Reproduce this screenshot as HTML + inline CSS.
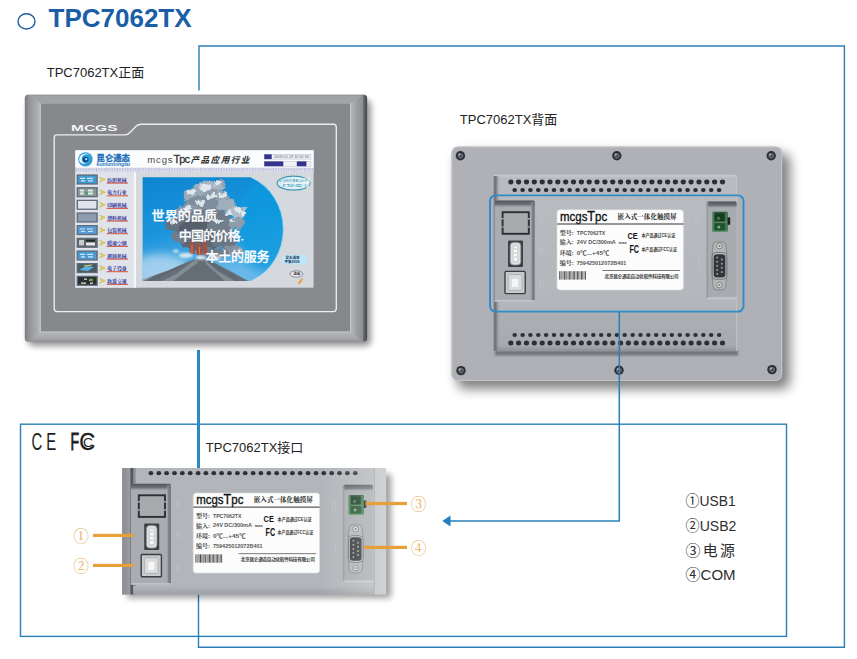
<!DOCTYPE html>
<html lang="zh-CN">
<head>
<meta charset="utf-8">
<title>TPC7062TX</title>
<style>
html,body{margin:0;padding:0;background:#fff;}
body{width:857px;height:659px;overflow:hidden;font-family:"Liberation Sans", "Noto Sans CJK SC", sans-serif;}
svg{display:block;}
text{font-family:"Liberation Sans", "Noto Sans CJK SC", sans-serif;}
.serif{font-family:"Liberation Serif", "Noto Serif CJK SC", serif;}
</style>
</head>
<body>
<svg width="857" height="659" viewBox="0 0 857 659">
<defs>
<filter id="blur2" x="-20%" y="-20%" width="140%" height="140%"><feGaussianBlur stdDeviation="2"/></filter>
<filter id="blur4" x="-20%" y="-20%" width="140%" height="140%"><feGaussianBlur stdDeviation="4"/></filter>
<filter id="blur3" x="-20%" y="-20%" width="140%" height="140%"><feGaussianBlur stdDeviation="3"/></filter>
<filter id="cloud" x="-10%" y="-10%" width="120%" height="120%"><feTurbulence type="fractalNoise" baseFrequency="0.16" numOctaves="3" seed="7" result="n"/><feDisplacementMap in="SourceGraphic" in2="n" scale="7" xChannelSelector="R" yChannelSelector="G"/><feGaussianBlur stdDeviation="0.7"/></filter>
<filter id="blur6" x="-20%" y="-20%" width="140%" height="140%"><feGaussianBlur stdDeviation="6"/></filter>
<filter id="blur1" x="-20%" y="-20%" width="140%" height="140%"><feGaussianBlur stdDeviation="1"/></filter>
<filter id="blur05" x="-20%" y="-20%" width="140%" height="140%"><feGaussianBlur stdDeviation="0.5"/></filter>
<linearGradient id="bezL" x1="0" y1="0" x2="1" y2="0"><stop offset="0" stop-color="#797b7f"/><stop offset="0.25" stop-color="#929498"/><stop offset="0.6" stop-color="#a2a4a7"/><stop offset="0.88" stop-color="#b0b2b5"/><stop offset="0.95" stop-color="#c8cacc"/><stop offset="1" stop-color="#b0b2b5"/></linearGradient>
<linearGradient id="bezR" x1="0" y1="0" x2="1" y2="0"><stop offset="0" stop-color="#d0d2d4"/><stop offset="0.08" stop-color="#b2b4b7"/><stop offset="0.4" stop-color="#9c9ea1"/><stop offset="0.74" stop-color="#8c8e91"/><stop offset="0.8" stop-color="#66686c"/><stop offset="1" stop-color="#434549"/></linearGradient>
<linearGradient id="bezT" x1="0" y1="0" x2="0" y2="1"><stop offset="0" stop-color="#8f9194"/><stop offset="0.2" stop-color="#a0a2a5"/><stop offset="1" stop-color="#a3a5a8"/></linearGradient>
<linearGradient id="bezB" x1="0" y1="0" x2="0" y2="1"><stop offset="0" stop-color="#c6c8ca"/><stop offset="0.12" stop-color="#b2b4b7"/><stop offset="0.6" stop-color="#a8aaad"/><stop offset="0.85" stop-color="#9c9ea1"/><stop offset="1" stop-color="#828488"/></linearGradient>
<linearGradient id="sky" x1="0" y1="0" x2="0.3" y2="1">
 <stop offset="0" stop-color="#0c84d0"/><stop offset="0.55" stop-color="#1c95dc"/><stop offset="1" stop-color="#6ab8ea"/>
</linearGradient>
<linearGradient id="backBody" x1="0" y1="0" x2="0" y2="1">
 <stop offset="0" stop-color="#afb1b7"/><stop offset="1" stop-color="#aeb0b6"/>
</linearGradient>
<clipPath id="picClip"><path d="M142.6,177.3 H251 A52,56 0 0 1 251,281 H142.6 Z"/></clipPath>
<clipPath id="ifaceClip"><rect x="122.2" y="468" width="264" height="126.6"/></clipPath>
<linearGradient id="ifL" x1="0" y1="0" x2="1" y2="0"><stop offset="0" stop-color="#85888c"/><stop offset="1" stop-color="#9c9fa3"/></linearGradient>
<linearGradient id="ifLight" x1="0" y1="0" x2="1" y2="0"><stop offset="0" stop-color="#fff" stop-opacity="0"/><stop offset="0.5" stop-color="#fff" stop-opacity="0.16"/><stop offset="1" stop-color="#fff" stop-opacity="0.3"/></linearGradient>
<linearGradient id="ifB" x1="0" y1="0" x2="0" y2="1"><stop offset="0" stop-color="#b2b5b9"/><stop offset="1" stop-color="#9b9ea2"/></linearGradient>
</defs>
<g fill="none" stroke="#2a7fb6" stroke-width="1.4">
<path d="M199,90.5 V46 H844.4 V647.2 H198.5 V594"/>
<rect x="20.5" y="424.2" width="766" height="212.2"/>
</g>
<rect x="197" y="350" width="3" height="118.5" fill="#2b8abf"/>
<g id="front">
<rect x="28" y="100" width="343" height="246" rx="5" fill="#000" opacity="0.42" filter="url(#blur3)"/>
<rect x="24.9" y="94.8" width="342.2" height="246.8" rx="3.6" fill="#a1a3a6"/>
<rect x="24.9" y="94.8" width="342.2" height="9" rx="3.6" fill="url(#bezT)"/>
<rect x="24.9" y="331.6" width="342.2" height="10" rx="3" fill="url(#bezB)"/>
<path d="M24.9,98.4 Q24.9,94.8 28.5,94.8 L41,103.8 V331.6 L28.5,341.6 Q24.9,341.6 24.9,338 Z" fill="url(#bezL)"/>
<path d="M367.1,98.4 Q367.1,94.8 363.5,94.8 L350,103.8 V331.6 L363.5,341.6 Q367.1,341.6 367.1,338 Z" fill="url(#bezR)"/>
<rect x="41" y="103.8" width="309" height="227.8" fill="#86888c"/>
<rect x="41" y="331.4" width="309" height="1" fill="#c4c6c8" opacity="0.8"/>
<path d="M57,134.8 H125 Q128,134.8 130,132.5 L136,126.2 Q138,124.2 141,124.2 H333.3 Q336.3,124.2 336.3,127.2 V308.6 Q336.3,311.6 333.3,311.6 H57.2 Q54.2,311.6 54.2,308.6 V137.8 Q54.2,134.8 57.2,134.8 Z" fill="#888a8e" stroke="#ecedee" stroke-width="1.35"/>
<text x="71" y="131" font-size="8.6" font-weight="bold" fill="#f4f4f4" textLength="46.5" lengthAdjust="spacingAndGlyphs">MCGS</text>
<g id="screen">
<rect x="75.3" y="150.3" width="238.3" height="137.4" fill="#d5d8dc"/>
<rect x="75.3" y="150.3" width="238.3" height="17.5" fill="#fbfcfd"/>
<rect x="75.3" y="167.8" width="238.3" height="4.4" fill="#dadcea"/>
<path d="M75.8,167.8 V171.8 M78.4,168.2 V170.6 M81.0,168.2 V170.6 M83.6,168.2 V170.6 M86.2,167.8 V171.8 M88.8,168.2 V170.6 M91.4,168.2 V170.6 M94.0,168.2 V170.6 M96.6,167.8 V171.8 M99.2,168.2 V170.6 M101.8,168.2 V170.6 M104.4,168.2 V170.6 M107.0,167.8 V171.8 M109.6,168.2 V170.6 M112.2,168.2 V170.6 M114.8,168.2 V170.6 M117.4,167.8 V171.8 M120.0,168.2 V170.6 M122.6,168.2 V170.6 M125.2,168.2 V170.6 M127.8,167.8 V171.8 M130.4,168.2 V170.6 M133.0,168.2 V170.6 M135.6,168.2 V170.6 M138.2,167.8 V171.8 M140.8,168.2 V170.6 M143.4,168.2 V170.6 M146.0,168.2 V170.6 M148.6,167.8 V171.8 M151.2,168.2 V170.6 M153.8,168.2 V170.6 M156.4,168.2 V170.6 M159.0,167.8 V171.8 M161.6,168.2 V170.6 M164.2,168.2 V170.6 M166.8,168.2 V170.6 M169.4,167.8 V171.8 M172.0,168.2 V170.6 M174.6,168.2 V170.6 M177.2,168.2 V170.6 M179.8,167.8 V171.8 M182.4,168.2 V170.6 M185.0,168.2 V170.6 M187.6,168.2 V170.6 M190.2,167.8 V171.8 M192.8,168.2 V170.6 M195.4,168.2 V170.6 M198.0,168.2 V170.6 M200.6,167.8 V171.8 M203.2,168.2 V170.6 M205.8,168.2 V170.6 M208.4,168.2 V170.6 M211.0,167.8 V171.8 M213.6,168.2 V170.6 M216.2,168.2 V170.6 M218.8,168.2 V170.6 M221.4,167.8 V171.8 M224.0,168.2 V170.6 M226.6,168.2 V170.6 M229.2,168.2 V170.6 M231.8,167.8 V171.8 M234.4,168.2 V170.6 M237.0,168.2 V170.6 M239.6,168.2 V170.6 M242.2,167.8 V171.8 M244.8,168.2 V170.6 M247.4,168.2 V170.6 M250.0,168.2 V170.6 M252.6,167.8 V171.8 M255.2,168.2 V170.6 M257.8,168.2 V170.6 M260.4,168.2 V170.6 M263.0,167.8 V171.8 M265.6,168.2 V170.6 M268.2,168.2 V170.6 M270.8,168.2 V170.6 M273.4,167.8 V171.8 M276.0,168.2 V170.6 M278.6,168.2 V170.6 M281.2,168.2 V170.6 M283.8,167.8 V171.8 M286.4,168.2 V170.6 M289.0,168.2 V170.6 M291.6,168.2 V170.6 M294.2,167.8 V171.8 M296.8,168.2 V170.6 M299.4,168.2 V170.6 M302.0,168.2 V170.6 M304.6,167.8 V171.8 M307.2,168.2 V170.6 M309.8,168.2 V170.6 M312.4,168.2 V170.6 " stroke="#9aa0c8" stroke-width="0.6" opacity="0.8"/>
<rect x="75.3" y="172.2" width="58.5" height="115.5" fill="#e0e3ea"/>
<rect x="133.8" y="172.2" width="2.2" height="115.5" fill="#f6f7f9"/>
<rect x="76.6" y="174.4" width="21.2" height="10.2" fill="#5f6b78"/>
<rect x="78" y="175.7" width="18.4" height="7.6" fill="#3f9ad0"/>
<path d="M80,178.4 h5 m2,0 h6 M81,180.9 h4 m3,0 h5" stroke="#cfe8f8" stroke-width="1.2"/>
<path d="M99.6,177.0 L105.2,179.5 L99.6,182.0 L101.6,179.5 Z" fill="#e8d24a" stroke="#b8a030" stroke-width="0.4"/>
<g transform="translate(107.2,181.6) scale(0.5)"><text x="0" y="0" font-size="9.8" font-weight="bold" fill="#2a2c96" class="serif">纺织机械</text></g>
<rect x="106.6" y="182.6" width="21.4" height="1" fill="#d4553a"/>
<rect x="76.6" y="187.1" width="21.2" height="10.2" fill="#5f6b78"/>
<rect x="78" y="188.4" width="18.4" height="7.6" fill="#8a9a96"/>
<path d="M80,190.6 h4 m4,0 h5 M80,193.6 h4 m4,0 h5" stroke="#e4e8e8" stroke-width="2"/><circle cx="86.5" cy="193.3" r="1.3" fill="#3aa060"/>
<path d="M99.6,189.7 L105.2,192.2 L99.6,194.7 L101.6,192.2 Z" fill="#e8d24a" stroke="#b8a030" stroke-width="0.4"/>
<g transform="translate(107.2,194.3) scale(0.5)"><text x="0" y="0" font-size="9.8" font-weight="bold" fill="#2a2c96" class="serif">电力行业</text></g>
<rect x="106.6" y="195.3" width="21.4" height="1" fill="#d4553a"/>
<rect x="76.6" y="199.7" width="21.2" height="10.2" fill="#5f6b78"/>
<rect x="78" y="201.0" width="18.4" height="7.6" fill="#dfe3ea"/>
<path d="M99.6,202.3 L105.2,204.8 L99.6,207.3 L101.6,204.8 Z" fill="#e8d24a" stroke="#b8a030" stroke-width="0.4"/>
<g transform="translate(107.2,206.9) scale(0.5)"><text x="0" y="0" font-size="9.8" font-weight="bold" fill="#2a2c96" class="serif">印刷机械</text></g>
<rect x="106.6" y="207.9" width="21.4" height="1" fill="#d4553a"/>
<rect x="76.6" y="212.4" width="21.2" height="10.2" fill="#5f6b78"/>
<rect x="78" y="213.7" width="18.4" height="7.6" fill="#8d9cae"/>
<path d="M99.6,215.0 L105.2,217.5 L99.6,220.0 L101.6,217.5 Z" fill="#e8d24a" stroke="#b8a030" stroke-width="0.4"/>
<g transform="translate(107.2,219.6) scale(0.5)"><text x="0" y="0" font-size="9.8" font-weight="bold" fill="#2a2c96" class="serif">塑料机械</text></g>
<rect x="106.6" y="220.6" width="21.4" height="1" fill="#d4553a"/>
<rect x="76.6" y="225.0" width="21.2" height="10.2" fill="#5f6b78"/>
<rect x="78" y="226.3" width="18.4" height="7.6" fill="#5a9ad2"/>
<path d="M80,229.0 h5 m2,0 h6 M81,231.5 h4 m3,0 h5" stroke="#cfe8f8" stroke-width="1.2"/>
<path d="M99.6,227.6 L105.2,230.1 L99.6,232.6 L101.6,230.1 Z" fill="#e8d24a" stroke="#b8a030" stroke-width="0.4"/>
<g transform="translate(107.2,232.2) scale(0.5)"><text x="0" y="0" font-size="9.8" font-weight="bold" fill="#2a2c96" class="serif">包装机械</text></g>
<rect x="106.6" y="233.2" width="21.4" height="1" fill="#d4553a"/>
<rect x="76.6" y="237.7" width="21.2" height="10.2" fill="#5f6b78"/>
<rect x="78" y="239.0" width="18.4" height="7.6" fill="#5a6268"/>
<rect x="79" y="239.9" width="5" height="5.5" fill="#c8ccd0"/><rect x="86" y="242.5" width="9" height="3" fill="#e8eaea"/><rect x="86" y="239.7" width="9" height="2" fill="#1c2a24"/>
<path d="M99.6,240.3 L105.2,242.8 L99.6,245.3 L101.6,242.8 Z" fill="#e8d24a" stroke="#b8a030" stroke-width="0.4"/>
<g transform="translate(107.2,244.9) scale(0.5)"><text x="0" y="0" font-size="9.8" font-weight="bold" fill="#2a2c96" class="serif">暖通空调</text></g>
<rect x="106.6" y="245.9" width="21.4" height="1" fill="#d4553a"/>
<rect x="76.6" y="250.4" width="21.2" height="10.2" fill="#5f6b78"/>
<rect x="78" y="251.7" width="18.4" height="7.6" fill="#4a9ad4"/>
<path d="M80,254.4 h5 m2,0 h6 M81,256.9 h4 m3,0 h5" stroke="#cfe8f8" stroke-width="1.2"/>
<path d="M99.6,253.0 L105.2,255.5 L99.6,258.0 L101.6,255.5 Z" fill="#e8d24a" stroke="#b8a030" stroke-width="0.4"/>
<g transform="translate(107.2,257.6) scale(0.5)"><text x="0" y="0" font-size="9.8" font-weight="bold" fill="#2a2c96" class="serif">玻璃机械</text></g>
<rect x="106.6" y="258.6" width="21.4" height="1" fill="#d4553a"/>
<rect x="76.6" y="263.0" width="21.2" height="10.2" fill="#5f6b78"/>
<rect x="78" y="264.3" width="18.4" height="7.6" fill="#4a5a62"/>
<path d="M79,270.0 l7,-4 l8,1 l-6,4 z" fill="#58b0e0"/><path d="M84,266.0 l8,-1" stroke="#d0d860" stroke-width="1.2"/>
<path d="M99.6,265.6 L105.2,268.1 L99.6,270.6 L101.6,268.1 Z" fill="#e8d24a" stroke="#b8a030" stroke-width="0.4"/>
<g transform="translate(107.2,270.2) scale(0.5)"><text x="0" y="0" font-size="9.8" font-weight="bold" fill="#2a2c96" class="serif">电子设备</text></g>
<rect x="106.6" y="271.2" width="21.4" height="1" fill="#d4553a"/>
<rect x="76.6" y="275.7" width="21.2" height="10.2" fill="#5f6b78"/>
<rect x="78" y="277.0" width="18.4" height="7.6" fill="#2a3034"/>
<path d="M84,279.1 h3 m2,1 h4 M81,283.1 h5 m4,0 h3" stroke="#e8e8d0" stroke-width="1.4"/><rect x="90" y="278.7" width="3" height="2.4" fill="#58a840"/>
<path d="M99.6,278.3 L105.2,280.8 L99.6,283.3 L101.6,280.8 Z" fill="#e8d24a" stroke="#b8a030" stroke-width="0.4"/>
<g transform="translate(107.2,282.9) scale(0.5)"><text x="0" y="0" font-size="9.8" font-weight="bold" fill="#2a2c96" class="serif">轨道交通</text></g>
<rect x="106.6" y="283.9" width="21.4" height="1" fill="#d4553a"/>
<circle cx="85.4" cy="159.4" r="7.2" fill="#2f9fd6"/>
<path d="M79.2,160.5 a6.3,6.3 0 0 1 11.5,-4.2 a5,5 0 0 0 -9,3.2 a3.6,3.6 0 0 0 6.6,1.6 a5,5 0 0 1 -9.1,-0.6z" fill="#e8f4fb"/>
<circle cx="85.6" cy="159.6" r="2.9" fill="#0b4f8c"/><circle cx="86.2" cy="159.2" r="1.1" fill="#bfe3f5"/>
<text x="96.6" y="160.6" font-size="8" font-weight="bold" fill="#1b6db8" stroke="#1b6db8" stroke-width="0.3" textLength="33.2" lengthAdjust="spacingAndGlyphs">昆仑通态</text>
<g transform="translate(96.6,166) scale(0.5)"><text x="0" y="0" font-size="11.6" font-weight="bold" fill="#2a78bd" textLength="67" lengthAdjust="spacingAndGlyphs">kunluntongtai</text></g>
<text x="147.2" y="162.6" font-size="9.6" fill="#4a4a4a" letter-spacing="0.85">mcgs<tspan font-size="11" fill="#333" stroke="#333" stroke-width="0.3" letter-spacing="-0.9">Tpc</tspan></text>
<text x="190.4" y="163.2" font-size="8.6" font-weight="bold" font-style="italic" fill="#2a2a2a" textLength="59" lengthAdjust="spacing">产品应用行业</text>
<rect x="264.3" y="154.3" width="46.6" height="4.8" fill="#f0f1f6" stroke="#a8acc8" stroke-width="0.4"/>
<rect x="264.3" y="154.3" width="7.4" height="4.8" fill="#34348c"/>
<g transform="translate(274,158.3) scale(0.25)"><text x="0" y="0" font-size="15" fill="#667">2009-02-19 10:52:30</text></g>
<rect x="264.3" y="161.4" width="46.6" height="4.8" fill="#f0f1f6" stroke="#a8acc8" stroke-width="0.4"/>
<rect x="264.3" y="161.4" width="19" height="4.8" fill="#34348c"/>
<rect x="296.8" y="161.4" width="9.6" height="4.8" fill="#34348c"/>
<ellipse cx="293.6" cy="183.2" rx="16.4" ry="7" fill="#dfeef2" stroke="#3f9ab6" stroke-width="1.3"/>
<path d="M279.6,180.6 h27.6 M283,185.6 h25" stroke="#4aa3bd" stroke-width="3" opacity="0.75"/>
<g transform="translate(280.6,182.2) scale(0.25)"><text x="0" y="0" font-size="17" font-weight="bold" fill="#f4fbfd">MCGS工控组态</text><text x="14" y="19" font-size="17" font-weight="bold" fill="#f4fbfd">嵌入式一体化</text></g>
<rect x="282.4" y="254.8" width="24.6" height="9.8" rx="2.4" fill="#bfe6f6"/>
<g transform="translate(285.6,259.2) scale(0.25)"><text x="0" y="0" font-size="14" font-weight="bold" fill="#1a3a5a">昆仑通态</text><text x="-4" y="15" font-size="14" font-weight="bold" fill="#1a3a5a">平安2009</text></g>
<ellipse cx="296.4" cy="274" rx="6.4" ry="3.2" fill="#e8e8ec" stroke="#6a6a78" stroke-width="0.7"/>
<g transform="translate(293.2,275.4) scale(0.25)"><text x="0" y="0" font-size="14" font-weight="bold" fill="#333">退出</text></g>
<path d="M297.4,283.2 L301.4,278.4 L303,279.6 L299.4,284.4 Z" fill="#e8a13a"/><path d="M301.8,278 l3,-1.6" stroke="#b9bcc4" stroke-width="0.6"/>
<g clip-path="url(#picClip)">
<rect x="140" y="175" width="146" height="108" fill="url(#sky)"/>
<ellipse cx="266" cy="226" rx="30" ry="46" fill="#0f9ade" opacity="0.8" filter="url(#blur4)"/>
<ellipse cx="160" cy="270" rx="30" ry="16" fill="#b4d8f0" opacity="0.8" filter="url(#blur4)"/>
<g filter="url(#cloud)">
<ellipse cx="219" cy="185" rx="8" ry="5" fill="#93a3b3"/>
<ellipse cx="209" cy="190" rx="14" ry="9" fill="#a9b6c3"/>
<ellipse cx="196" cy="196" rx="12" ry="9" fill="#9dabb9"/>
<ellipse cx="215" cy="199" rx="15" ry="10" fill="#8e9dac"/>
<ellipse cx="203" cy="206" rx="20" ry="9" fill="#7f8e9d"/>
<ellipse cx="227" cy="205" rx="9" ry="7" fill="#a0aebb"/>
<ellipse cx="238" cy="212" rx="9" ry="6" fill="#b0bcc8"/>
<ellipse cx="188" cy="212" rx="13" ry="8" fill="#8a99a8"/>
<ellipse cx="206" cy="218" rx="24" ry="9" fill="#6e7b89"/>
<ellipse cx="177" cy="225" rx="12" ry="7" fill="#65717e"/>
<ellipse cx="196" cy="230" rx="18" ry="10" fill="#56616d"/>
<ellipse cx="222" cy="226" rx="14" ry="8" fill="#717e8b"/>
<ellipse cx="236" cy="223" rx="8" ry="6" fill="#8f9daa"/>
<ellipse cx="200" cy="242" rx="19" ry="9" fill="#5d6874"/>
<ellipse cx="224" cy="240" rx="12" ry="8" fill="#6a7683"/>
<ellipse cx="180" cy="237" rx="9" ry="6" fill="#6f7b88"/>
<ellipse cx="232" cy="251" rx="11" ry="5" fill="#8593a0"/>
<ellipse cx="214" cy="253" rx="14" ry="5" fill="#6f7b88"/>
<ellipse cx="217" cy="183" rx="4" ry="2.5" fill="#e6edf3" opacity="0.9"/>
<ellipse cx="205" cy="187" rx="6" ry="3" fill="#e6edf3" opacity="0.9"/>
<ellipse cx="192" cy="192" rx="5" ry="3" fill="#e6edf3" opacity="0.9"/>
<ellipse cx="222" cy="195" rx="5" ry="3" fill="#e6edf3" opacity="0.9"/>
<ellipse cx="211" cy="196" rx="5" ry="2.5" fill="#e6edf3" opacity="0.9"/>
<ellipse cx="238" cy="209" rx="5" ry="3" fill="#e6edf3" opacity="0.9"/>
<ellipse cx="229" cy="213" rx="3" ry="2" fill="#e6edf3" opacity="0.9"/>
<ellipse cx="187" cy="208" rx="4" ry="2.5" fill="#e6edf3" opacity="0.9"/>
<ellipse cx="200" cy="203" rx="5" ry="2.5" fill="#e6edf3" opacity="0.9"/>
<ellipse cx="243" cy="213" rx="3" ry="2" fill="#e6edf3" opacity="0.9"/>
<ellipse cx="176" cy="222" rx="4" ry="2" fill="#e6edf3" opacity="0.9"/>
<ellipse cx="218" cy="221" rx="5" ry="2" fill="#e6edf3" opacity="0.9"/>
<ellipse cx="170" cy="220" rx="2" ry="1.5" fill="#e6edf3" opacity="0.9"/>
<ellipse cx="233" cy="220" rx="3" ry="1.6" fill="#e6edf3" opacity="0.9"/>
</g>
<g filter="url(#blur05)"><path d="M190,242 q2,-3 4,0 l1,12 h-5 z M197,244 q2,-3 4,0 l1.5,11 h-6 z M203.5,242 q1.5,-2 3,0 l1,12 h-4 z" fill="#a8503c"/><path d="M192,245 v8 M199.5,247 v7" stroke="#d0805a" stroke-width="0.9"/></g>
<path d="M142,282 L142,279.5 L168,270.5 L186,262.6 L196,259 L204,258.6 L214,262.6 L232,272 L250,282 Z" fill="#656e77"/>
<path d="M196,259 L176,274 L160,282 H172 L198,262.6 Z M204,258.6 L216,270 L236,282 H226 L206,264 Z" fill="#8f99a2" opacity="0.7"/>
<path d="M180,266.4 L150,281 M210,262.6 L236,278" stroke="#58626c" stroke-width="1.4" opacity="0.6"/>
<path d="M142,276 L168,268 L142,282 Z" fill="#a9cdea" opacity="0.55"/>
<g filter="url(#blur1)" opacity="0.9"><ellipse cx="186" cy="255.4" rx="7" ry="2.6" fill="#e6edf2"/><ellipse cx="201" cy="257.4" rx="5" ry="2" fill="#f0f4f7"/><ellipse cx="216" cy="257.4" rx="6" ry="2.4" fill="#c9d3db"/><ellipse cx="176" cy="251" rx="3" ry="1.6" fill="#e6edf2"/><ellipse cx="240" cy="250" rx="2" ry="1.2" fill="#e6edf2"/></g>
</g>
<path d="M251,177.3 A52,56 0 0 1 251,281" fill="none" stroke="#a8e0f6" stroke-width="0.9" opacity="0.9"/>
<text x="151.6" y="219.6" font-size="13" font-weight="500" fill="#ffffff" stroke="#ffffff" stroke-width="0.25" textLength="65.4" lengthAdjust="spacing">世界的品质</text>
<text x="178.8" y="240" font-size="13" font-weight="500" fill="#ffffff" stroke="#ffffff" stroke-width="0.25" textLength="62" lengthAdjust="spacing">中国的价格</text>
<text x="205.4" y="260.6" font-size="13" font-weight="500" fill="#ffffff" stroke="#ffffff" stroke-width="0.25" textLength="64" lengthAdjust="spacing">本土的服务</text>
<rect x="241.4" y="239" width="2" height="1.4" fill="#fff"/>
</g>
</g>
<defs>
<linearGradient id="shTop" x1="0" y1="0" x2="0" y2="1"><stop offset="0" stop-color="#505358"/><stop offset="0.55" stop-color="#696c71" stop-opacity="0.9"/><stop offset="1" stop-color="#a9acb0" stop-opacity="0"/></linearGradient>
<linearGradient id="shRight" x1="0" y1="0" x2="1" y2="0"><stop offset="0" stop-color="#a9acb0" stop-opacity="0"/><stop offset="0.5" stop-color="#7d8085" stop-opacity="0.9"/><stop offset="1" stop-color="#6b6e73"/></linearGradient>
<linearGradient id="shLeft" x1="0" y1="0" x2="1" y2="0"><stop offset="0" stop-color="#7a7d82"/><stop offset="0.35" stop-color="#6f7277"/><stop offset="1" stop-color="#a9acb0" stop-opacity="0"/></linearGradient>
<linearGradient id="raised" x1="0" y1="0" x2="0" y2="1"><stop offset="0" stop-color="#c8cace"/><stop offset="0.02" stop-color="#b8bbc0"/><stop offset="0.75" stop-color="#b3b6bb"/><stop offset="0.8" stop-color="#abaeb3"/><stop offset="0.97" stop-color="#a7aaaf"/><stop offset="1" stop-color="#92959a"/></linearGradient>
</defs>
<g id="back">
<rect x="457" y="153" width="333" height="236" rx="8" fill="#000" opacity="0.5" filter="url(#blur6)"/>
<rect x="451.4" y="146.4" width="330.8" height="234.6" rx="6.5" fill="url(#backBody)"/>
<rect x="452" y="147" width="329.6" height="233.4" rx="6" fill="none" stroke="#c6c8cc" stroke-width="1.2" opacity="0.8"/>
<circle cx="460.4" cy="155.8" r="4.7" fill="#2b2e33"/><circle cx="460.4" cy="155.8" r="2.8" fill="#6a6e75"/><path d="M458.4,154.20000000000002 l4,3.2 M462.0,153.8 l-3.2,4" stroke="#3c3f44" stroke-width="0.9"/><circle cx="459.4" cy="154.60000000000002" r="0.9" fill="#c3c6ca"/>
<circle cx="616.8" cy="155.8" r="4.7" fill="#2b2e33"/><circle cx="616.8" cy="155.8" r="2.8" fill="#6a6e75"/><path d="M614.8,154.20000000000002 l4,3.2 M618.4,153.8 l-3.2,4" stroke="#3c3f44" stroke-width="0.9"/><circle cx="615.8" cy="154.60000000000002" r="0.9" fill="#c3c6ca"/>
<circle cx="771.2" cy="155.8" r="4.7" fill="#2b2e33"/><circle cx="771.2" cy="155.8" r="2.8" fill="#6a6e75"/><path d="M769.2,154.20000000000002 l4,3.2 M772.8000000000001,153.8 l-3.2,4" stroke="#3c3f44" stroke-width="0.9"/><circle cx="770.2" cy="154.60000000000002" r="0.9" fill="#c3c6ca"/>
<circle cx="461" cy="370.6" r="4.7" fill="#2b2e33"/><circle cx="461" cy="370.6" r="2.8" fill="#6a6e75"/><path d="M459,369.0 l4,3.2 M462.6,368.6 l-3.2,4" stroke="#3c3f44" stroke-width="0.9"/><circle cx="460" cy="369.40000000000003" r="0.9" fill="#c3c6ca"/>
<circle cx="619" cy="370.2" r="4.7" fill="#2b2e33"/><circle cx="619" cy="370.2" r="2.8" fill="#6a6e75"/><path d="M617,368.59999999999997 l4,3.2 M620.6,368.2 l-3.2,4" stroke="#3c3f44" stroke-width="0.9"/><circle cx="618" cy="369.0" r="0.9" fill="#c3c6ca"/>
<circle cx="772" cy="369.6" r="4.7" fill="#2b2e33"/><circle cx="772" cy="369.6" r="2.8" fill="#6a6e75"/><path d="M770,368.0 l4,3.2 M773.6,367.6 l-3.2,4" stroke="#3c3f44" stroke-width="0.9"/><circle cx="771" cy="368.40000000000003" r="0.9" fill="#c3c6ca"/>
<rect x="495" y="350.6" width="243" height="5" fill="#5f6267" opacity="0.75" filter="url(#blur1)"/>
<rect x="493.6" y="174.8" width="243" height="175.6" rx="2" fill="url(#raised)"/>
<rect x="493.6" y="176" width="6.4" height="175" fill="url(#shLeft)"/>
<rect x="736" y="176" width="1.2" height="175" fill="#c6c8cb" opacity="0.7"/>
<g fill="#2c2f34"><ellipse cx="510.8" cy="182" rx="2.6" ry="2.4"/><ellipse cx="518.6" cy="182" rx="2.6" ry="2.4"/><ellipse cx="526.5" cy="182" rx="2.6" ry="2.4"/><ellipse cx="534.3" cy="182" rx="2.6" ry="2.4"/><ellipse cx="542.2" cy="182" rx="2.6" ry="2.4"/><ellipse cx="550.0" cy="182" rx="2.6" ry="2.4"/><ellipse cx="557.8" cy="182" rx="2.6" ry="2.4"/><ellipse cx="565.7" cy="182" rx="2.6" ry="2.4"/><ellipse cx="573.5" cy="182" rx="2.6" ry="2.4"/><ellipse cx="581.4" cy="182" rx="2.6" ry="2.4"/><ellipse cx="589.2" cy="182" rx="2.6" ry="2.4"/><ellipse cx="597.0" cy="182" rx="2.6" ry="2.4"/><ellipse cx="604.9" cy="182" rx="2.6" ry="2.4"/><ellipse cx="612.7" cy="182" rx="2.6" ry="2.4"/><ellipse cx="620.6" cy="182" rx="2.6" ry="2.4"/><ellipse cx="628.4" cy="182" rx="2.6" ry="2.4"/><ellipse cx="636.2" cy="182" rx="2.6" ry="2.4"/><ellipse cx="644.1" cy="182" rx="2.6" ry="2.4"/><ellipse cx="651.9" cy="182" rx="2.6" ry="2.4"/><ellipse cx="659.8" cy="182" rx="2.6" ry="2.4"/><ellipse cx="667.6" cy="182" rx="2.6" ry="2.4"/><ellipse cx="675.4" cy="182" rx="2.6" ry="2.4"/><ellipse cx="683.3" cy="182" rx="2.6" ry="2.4"/><ellipse cx="691.1" cy="182" rx="2.6" ry="2.4"/><ellipse cx="699.0" cy="182" rx="2.6" ry="2.4"/><ellipse cx="706.8" cy="182" rx="2.6" ry="2.4"/><ellipse cx="714.6" cy="182" rx="2.6" ry="2.4"/><ellipse cx="722.5" cy="182" rx="2.6" ry="2.4"/><ellipse cx="514.7" cy="190.1" rx="2.35" ry="2.1"/><ellipse cx="522.6" cy="190.1" rx="2.35" ry="2.1"/><ellipse cx="530.4" cy="190.1" rx="2.35" ry="2.1"/><ellipse cx="538.3" cy="190.1" rx="2.35" ry="2.1"/><ellipse cx="546.1" cy="190.1" rx="2.35" ry="2.1"/><ellipse cx="554.0" cy="190.1" rx="2.35" ry="2.1"/><ellipse cx="561.9" cy="190.1" rx="2.35" ry="2.1"/><ellipse cx="569.7" cy="190.1" rx="2.35" ry="2.1"/><ellipse cx="577.6" cy="190.1" rx="2.35" ry="2.1"/><ellipse cx="585.4" cy="190.1" rx="2.35" ry="2.1"/><ellipse cx="593.3" cy="190.1" rx="2.35" ry="2.1"/><ellipse cx="601.2" cy="190.1" rx="2.35" ry="2.1"/><ellipse cx="609.0" cy="190.1" rx="2.35" ry="2.1"/><ellipse cx="616.9" cy="190.1" rx="2.35" ry="2.1"/><ellipse cx="624.7" cy="190.1" rx="2.35" ry="2.1"/><ellipse cx="632.6" cy="190.1" rx="2.35" ry="2.1"/><ellipse cx="640.5" cy="190.1" rx="2.35" ry="2.1"/><ellipse cx="648.3" cy="190.1" rx="2.35" ry="2.1"/><ellipse cx="656.2" cy="190.1" rx="2.35" ry="2.1"/><ellipse cx="664.0" cy="190.1" rx="2.35" ry="2.1"/><ellipse cx="671.9" cy="190.1" rx="2.35" ry="2.1"/><ellipse cx="679.8" cy="190.1" rx="2.35" ry="2.1"/><ellipse cx="687.6" cy="190.1" rx="2.35" ry="2.1"/><ellipse cx="695.5" cy="190.1" rx="2.35" ry="2.1"/><ellipse cx="703.3" cy="190.1" rx="2.35" ry="2.1"/><ellipse cx="711.2" cy="190.1" rx="2.35" ry="2.1"/><ellipse cx="719.1" cy="190.1" rx="2.35" ry="2.1"/></g>
<g fill="#2c2f34"><ellipse cx="514.7" cy="335" rx="2.25" ry="2"/><ellipse cx="522.6" cy="335" rx="2.25" ry="2"/><ellipse cx="530.4" cy="335" rx="2.25" ry="2"/><ellipse cx="538.3" cy="335" rx="2.25" ry="2"/><ellipse cx="546.1" cy="335" rx="2.25" ry="2"/><ellipse cx="554.0" cy="335" rx="2.25" ry="2"/><ellipse cx="561.9" cy="335" rx="2.25" ry="2"/><ellipse cx="569.7" cy="335" rx="2.25" ry="2"/><ellipse cx="577.6" cy="335" rx="2.25" ry="2"/><ellipse cx="585.4" cy="335" rx="2.25" ry="2"/><ellipse cx="593.3" cy="335" rx="2.25" ry="2"/><ellipse cx="601.2" cy="335" rx="2.25" ry="2"/><ellipse cx="609.0" cy="335" rx="2.25" ry="2"/><ellipse cx="616.9" cy="335" rx="2.25" ry="2"/><ellipse cx="624.7" cy="335" rx="2.25" ry="2"/><ellipse cx="632.6" cy="335" rx="2.25" ry="2"/><ellipse cx="640.5" cy="335" rx="2.25" ry="2"/><ellipse cx="648.3" cy="335" rx="2.25" ry="2"/><ellipse cx="656.2" cy="335" rx="2.25" ry="2"/><ellipse cx="664.0" cy="335" rx="2.25" ry="2"/><ellipse cx="671.9" cy="335" rx="2.25" ry="2"/><ellipse cx="679.8" cy="335" rx="2.25" ry="2"/><ellipse cx="687.6" cy="335" rx="2.25" ry="2"/><ellipse cx="695.5" cy="335" rx="2.25" ry="2"/><ellipse cx="703.3" cy="335" rx="2.25" ry="2"/><ellipse cx="711.2" cy="335" rx="2.25" ry="2"/><ellipse cx="719.1" cy="335" rx="2.25" ry="2"/><ellipse cx="510.8" cy="343" rx="2.6" ry="2.5"/><ellipse cx="518.6" cy="343" rx="2.6" ry="2.5"/><ellipse cx="526.5" cy="343" rx="2.6" ry="2.5"/><ellipse cx="534.3" cy="343" rx="2.6" ry="2.5"/><ellipse cx="542.2" cy="343" rx="2.6" ry="2.5"/><ellipse cx="550.0" cy="343" rx="2.6" ry="2.5"/><ellipse cx="557.8" cy="343" rx="2.6" ry="2.5"/><ellipse cx="565.7" cy="343" rx="2.6" ry="2.5"/><ellipse cx="573.5" cy="343" rx="2.6" ry="2.5"/><ellipse cx="581.4" cy="343" rx="2.6" ry="2.5"/><ellipse cx="589.2" cy="343" rx="2.6" ry="2.5"/><ellipse cx="597.0" cy="343" rx="2.6" ry="2.5"/><ellipse cx="604.9" cy="343" rx="2.6" ry="2.5"/><ellipse cx="612.7" cy="343" rx="2.6" ry="2.5"/><ellipse cx="620.6" cy="343" rx="2.6" ry="2.5"/><ellipse cx="628.4" cy="343" rx="2.6" ry="2.5"/><ellipse cx="636.2" cy="343" rx="2.6" ry="2.5"/><ellipse cx="644.1" cy="343" rx="2.6" ry="2.5"/><ellipse cx="651.9" cy="343" rx="2.6" ry="2.5"/><ellipse cx="659.8" cy="343" rx="2.6" ry="2.5"/><ellipse cx="667.6" cy="343" rx="2.6" ry="2.5"/><ellipse cx="675.4" cy="343" rx="2.6" ry="2.5"/><ellipse cx="683.3" cy="343" rx="2.6" ry="2.5"/><ellipse cx="691.1" cy="343" rx="2.6" ry="2.5"/><ellipse cx="699.0" cy="343" rx="2.6" ry="2.5"/><ellipse cx="706.8" cy="343" rx="2.6" ry="2.5"/><ellipse cx="714.6" cy="343" rx="2.6" ry="2.5"/><ellipse cx="722.5" cy="343" rx="2.6" ry="2.5"/></g>
<rect x="494.6" y="200.6" width="40" height="100.8" rx="1.5" fill="#a9acb0"/>
<rect x="494.6" y="200.6" width="40" height="7.5" rx="1.5" fill="url(#shTop)"/>
<rect x="530" y="201.6" width="4.6" height="99" fill="url(#shRight)"/>
<rect x="494.6" y="300" width="40" height="1.6" fill="#c3c5c8"/>
<rect x="502.6" y="212.2" width="26.2" height="21.6" fill="#a8aaad" stroke="#2c2e32" stroke-width="1.9"/>
<path d="M502.6,218 v1.4 M502.6,226.2 v1.4 M528.8,218 v1.4 M528.8,226.2 v1.4" stroke="#b7b9bc" stroke-width="1.8"/>
<rect x="508" y="240.4" width="15" height="26.6" rx="1" fill="#3d3f43"/>
<rect x="510.2" y="242.4" width="10.6" height="22.6" rx="3.4" fill="#dcdee0" stroke="#8e9195" stroke-width="0.8"/>
<rect x="513.2" y="246" width="4.6" height="15.6" rx="0.8" fill="#fafafa" stroke="#a3a6aa" stroke-width="0.5"/>
<path d="M514.4,249 h2.2 M514.4,253 h2.2 M514.4,257 h2.2" stroke="#9a9da1" stroke-width="0.8"/>
<rect x="505" y="271.4" width="20.2" height="22.2" rx="1" fill="#c9cbcd" stroke="#3b3d41" stroke-width="1.4"/>
<rect x="508.2" y="274.6" width="13.8" height="15.8" rx="1.6" fill="#d9dbdd" stroke="#a0a3a7" stroke-width="0.7"/>
<rect x="512" y="279" width="6.2" height="8" rx="0.8" fill="#f6f6f6"/>
<path d="M540,217 v7 M543,218 v5 M540,247 v8 M543,248 v6 M540,280 v9 M543,282 v6" stroke="#c3c6c9" stroke-width="1" opacity="0.8"/>
<rect x="706.6" y="201.6" width="30" height="97.4" rx="1.5" fill="#a8abaf"/>
<rect x="706.6" y="201.6" width="30" height="7" rx="1.5" fill="url(#shTop)"/>
<rect x="706.6" y="297.4" width="30" height="1.8" fill="#c6c8cb"/>
<rect x="706.6" y="202" width="1.6" height="96" fill="#96999d"/>
<path d="M696,216 v12 M699,218 v9 M699,258 v12" stroke="#c0c3c6" stroke-width="0.9" opacity="0.8"/>
<rect x="712.6" y="211.8" width="15" height="20" rx="0.8" fill="#2a5a36"/>
<rect x="712.6" y="211.8" width="1.6" height="20" fill="#4a8556"/>
<rect x="725.2" y="212.4" width="2.4" height="19" fill="#437c4f"/>
<rect x="714.8" y="213.4" width="9.6" height="8.4" rx="1" fill="#173a22"/><rect x="714.8" y="223.4" width="9.6" height="7.2" rx="1" fill="#24502f"/>
<circle cx="718.4" cy="218.4" r="1.8" fill="#466f50"/><circle cx="718.8" cy="227" r="1.5" fill="#7ab386"/>
<rect x="714.6" y="221.6" width="12.4" height="1.1" fill="#5f9f6c"/>
<rect x="712.6" y="230.6" width="15" height="1.2" fill="#5f9f6c"/>
<rect x="727.6" y="217.4" width="2.6" height="7.4" fill="#1f2124"/>
<path d="M716,241.8 h6.8 q2.6,0 2.9,3 l0.9,7 v26 l-0.9,9 q-0.3,3 -2.9,3 h-6.8 q-2.6,0 -2.9,-3 l-0.9,-9 v-26 l0.9,-7 q0.3,-3 2.9,-3 z" fill="#b3b5b8" stroke="#7a7d81" stroke-width="0.8"/>
<rect x="712.2" y="252.6" width="14.6" height="26.6" rx="3.8" fill="#c4c6c8" stroke="#66696d" stroke-width="0.9"/>
<rect x="713.6" y="254.2" width="11.8" height="23.4" rx="3" fill="#34363a"/>
<g fill="#9a9da1"><circle cx="717.2" cy="257.6" r="1"/><circle cx="717.2" cy="261.7" r="1"/><circle cx="717.2" cy="265.8" r="1"/><circle cx="717.2" cy="269.9" r="1"/><circle cx="717.2" cy="274.0" r="1"/><circle cx="721.8" cy="259.6" r="1"/><circle cx="721.8" cy="263.7" r="1"/><circle cx="721.8" cy="267.8" r="1"/><circle cx="721.8" cy="271.9" r="1"/></g>
<circle cx="719.4" cy="246" r="2.8" fill="#e2e3e4" stroke="#74777b" stroke-width="0.9"/><circle cx="719.4" cy="246" r="1.2" fill="#8f8472"/>
<circle cx="719.4" cy="285" r="2.8" fill="#e2e3e4" stroke="#74777b" stroke-width="0.9"/><circle cx="719.4" cy="285" r="1.2" fill="#8f8472"/>
<rect x="557" y="209.8" width="126.4" height="80.2" rx="3.2" fill="#fcfcfc"/>
<rect x="557" y="209.8" width="126.4" height="80.2" rx="3.2" fill="none" stroke="#d9dbdd" stroke-width="0.6"/>
<text x="560" y="221" font-size="13.4" fill="#111" stroke="#111" stroke-width="0.35" textLength="47.2" lengthAdjust="spacingAndGlyphs">mcgs<tspan font-size="14.8">T</tspan>pc</text>
<g transform="translate(617.6,219.2) scale(0.5)"><text class="serif" x="0" y="0" font-size="13" font-weight="bold" fill="#222" textLength="118" lengthAdjust="spacing">嵌入式一体化触摸屏</text></g>
<rect x="557" y="223.5" width="126.4" height="1" fill="#333"/>
<g transform="translate(559.8,234.9) scale(0.5)"><text class="serif" x="0" y="0" font-size="12" font-weight="bold" fill="#444">型号:</text><text x="34" y="-0.6" font-size="9.6" font-weight="bold" fill="#555" textLength="57.0" lengthAdjust="spacingAndGlyphs">TPC7062TX</text></g>
<g transform="translate(559.8,244.4) scale(0.5)"><text class="serif" x="0" y="0" font-size="12" font-weight="bold" fill="#444">输入:</text><text x="34" y="-0.6" font-size="11" font-weight="bold" fill="#555" textLength="78" lengthAdjust="spacingAndGlyphs">24V DC/300mA</text></g>
<g transform="translate(559.8,254.8) scale(0.5)"><text class="serif" x="0" y="0" font-size="12" font-weight="bold" fill="#444">环境:</text><text x="34" y="-0.6" font-size="11" font-weight="bold" fill="#555" textLength="65.2" lengthAdjust="spacingAndGlyphs">0℃...+45℃</text></g>
<g transform="translate(559.8,265.1) scale(0.5)"><text class="serif" x="0" y="0" font-size="12" font-weight="bold" fill="#444">编号:</text><text x="34" y="-0.6" font-size="11" font-weight="bold" fill="#555" textLength="99.0" lengthAdjust="spacingAndGlyphs">759425012072B401</text></g>
<g transform="translate(618.6,244.2) scale(0.5)"><text x="0" y="0" font-size="8" font-weight="bold" fill="#444">max</text></g>
<g fill="#4a4a4a"><rect x="559.2" y="271.2" width="0.9" height="8.4"/><rect x="560.6" y="271.2" width="0.5" height="8.4"/><rect x="561.5" y="271.2" width="0.8" height="8.4"/><rect x="562.8" y="271.2" width="0.5" height="8.4"/><rect x="563.8" y="271.2" width="1.1" height="8.4"/><rect x="565.4" y="271.2" width="0.5" height="8.4"/><rect x="566.4" y="271.2" width="1.0" height="8.4"/><rect x="568.0" y="271.2" width="0.5" height="8.4"/><rect x="569.0" y="271.2" width="0.8" height="8.4"/><rect x="570.4" y="271.2" width="0.9" height="8.4"/><rect x="571.8" y="271.2" width="0.5" height="8.4"/><rect x="572.8" y="271.2" width="0.9" height="8.4"/><rect x="574.2" y="271.2" width="1.0" height="8.4"/><rect x="575.8" y="271.2" width="0.6" height="8.4"/><rect x="577.0" y="271.2" width="0.9" height="8.4"/><rect x="578.4" y="271.2" width="0.8" height="8.4"/><rect x="579.8" y="271.2" width="0.6" height="8.4"/><rect x="581.0" y="271.2" width="0.9" height="8.4"/><rect x="582.4" y="271.2" width="0.8" height="8.4"/><rect x="583.8" y="271.2" width="0.6" height="8.4"/><rect x="585.0" y="271.2" width="0.9" height="8.4"/></g>
<rect x="602.4" y="270.3" width="77.6" height="0.7" fill="#444"/>
<g transform="translate(604.6,278) scale(0.25)"><text x="0" y="0" font-size="18.4" font-weight="bold" fill="#3a3a3a" textLength="296" lengthAdjust="spacing">北京昆仑通态自动化软件科技有限公司</text></g>
<text x="627.4" y="238.9" font-size="9.6" font-weight="bold" fill="#111" textLength="10.2" lengthAdjust="spacingAndGlyphs">CE</text>
<g transform="translate(641.4,237.4) scale(0.25)"><text x="0" y="0" font-size="18" font-weight="bold" fill="#3a3a3a" textLength="136" lengthAdjust="spacingAndGlyphs">本产品通过CE认证</text></g>
<text x="629.4" y="252.6" font-size="10" font-weight="bold" fill="#111" textLength="9.6" lengthAdjust="spacingAndGlyphs">FC</text>
<g transform="translate(641.4,251) scale(0.25)"><text x="0" y="0" font-size="18" font-weight="bold" fill="#3a3a3a" textLength="142" lengthAdjust="spacingAndGlyphs">本产品通过FCC认证</text></g>
<rect x="490" y="195.4" width="253.5" height="116.2" rx="5.5" fill="none" stroke="#2e8bcb" stroke-width="1.9"/>
<path d="M619.3,312 V521 H450" fill="none" stroke="#2a7fb6" stroke-width="1.5"/>
<path d="M442.3,521 L450.5,515.5 V526.5 Z" fill="#217fc0"/>
</g>
<g id="iface">
<rect x="127" y="474" width="264" height="124" fill="#000" opacity="0.38" filter="url(#blur3)"/>
<g clip-path="url(#ifaceClip)">
<rect x="122" y="468" width="264.5" height="127" fill="#bcbfc2"/>
<g transform="translate(-363.8,283.1)">
<rect x="485" y="184" width="10" height="128" fill="url(#ifL)"/>
<rect x="497" y="170" width="240.6" height="145" fill="#b2b5b9"/>
<rect x="494.2" y="184" width="3.4" height="128" fill="#55585d"/>
<rect x="497" y="184" width="2.4" height="128" fill="#8b8e93"/>
<rect x="497" y="303" width="240.6" height="9" fill="url(#ifB)"/>
<rect x="737.4" y="184" width="1.4" height="128" fill="#a3a6aa"/>
<g fill="#2c2f34"><ellipse cx="510.8" cy="182" rx="2.6" ry="2.4"/><ellipse cx="518.6" cy="182" rx="2.6" ry="2.4"/><ellipse cx="526.5" cy="182" rx="2.6" ry="2.4"/><ellipse cx="534.3" cy="182" rx="2.6" ry="2.4"/><ellipse cx="542.2" cy="182" rx="2.6" ry="2.4"/><ellipse cx="550.0" cy="182" rx="2.6" ry="2.4"/><ellipse cx="557.8" cy="182" rx="2.6" ry="2.4"/><ellipse cx="565.7" cy="182" rx="2.6" ry="2.4"/><ellipse cx="573.5" cy="182" rx="2.6" ry="2.4"/><ellipse cx="581.4" cy="182" rx="2.6" ry="2.4"/><ellipse cx="589.2" cy="182" rx="2.6" ry="2.4"/><ellipse cx="597.0" cy="182" rx="2.6" ry="2.4"/><ellipse cx="604.9" cy="182" rx="2.6" ry="2.4"/><ellipse cx="612.7" cy="182" rx="2.6" ry="2.4"/><ellipse cx="620.6" cy="182" rx="2.6" ry="2.4"/><ellipse cx="628.4" cy="182" rx="2.6" ry="2.4"/><ellipse cx="636.2" cy="182" rx="2.6" ry="2.4"/><ellipse cx="644.1" cy="182" rx="2.6" ry="2.4"/><ellipse cx="651.9" cy="182" rx="2.6" ry="2.4"/><ellipse cx="659.8" cy="182" rx="2.6" ry="2.4"/><ellipse cx="667.6" cy="182" rx="2.6" ry="2.4"/><ellipse cx="675.4" cy="182" rx="2.6" ry="2.4"/><ellipse cx="683.3" cy="182" rx="2.6" ry="2.4"/><ellipse cx="691.1" cy="182" rx="2.6" ry="2.4"/><ellipse cx="699.0" cy="182" rx="2.6" ry="2.4"/><ellipse cx="706.8" cy="182" rx="2.6" ry="2.4"/><ellipse cx="714.6" cy="182" rx="2.6" ry="2.4"/><ellipse cx="722.5" cy="182" rx="2.6" ry="2.4"/><ellipse cx="514.7" cy="190.1" rx="2.35" ry="2.1"/><ellipse cx="522.6" cy="190.1" rx="2.35" ry="2.1"/><ellipse cx="530.4" cy="190.1" rx="2.35" ry="2.1"/><ellipse cx="538.3" cy="190.1" rx="2.35" ry="2.1"/><ellipse cx="546.1" cy="190.1" rx="2.35" ry="2.1"/><ellipse cx="554.0" cy="190.1" rx="2.35" ry="2.1"/><ellipse cx="561.9" cy="190.1" rx="2.35" ry="2.1"/><ellipse cx="569.7" cy="190.1" rx="2.35" ry="2.1"/><ellipse cx="577.6" cy="190.1" rx="2.35" ry="2.1"/><ellipse cx="585.4" cy="190.1" rx="2.35" ry="2.1"/><ellipse cx="593.3" cy="190.1" rx="2.35" ry="2.1"/><ellipse cx="601.2" cy="190.1" rx="2.35" ry="2.1"/><ellipse cx="609.0" cy="190.1" rx="2.35" ry="2.1"/><ellipse cx="616.9" cy="190.1" rx="2.35" ry="2.1"/><ellipse cx="624.7" cy="190.1" rx="2.35" ry="2.1"/><ellipse cx="632.6" cy="190.1" rx="2.35" ry="2.1"/><ellipse cx="640.5" cy="190.1" rx="2.35" ry="2.1"/><ellipse cx="648.3" cy="190.1" rx="2.35" ry="2.1"/><ellipse cx="656.2" cy="190.1" rx="2.35" ry="2.1"/><ellipse cx="664.0" cy="190.1" rx="2.35" ry="2.1"/><ellipse cx="671.9" cy="190.1" rx="2.35" ry="2.1"/><ellipse cx="679.8" cy="190.1" rx="2.35" ry="2.1"/><ellipse cx="687.6" cy="190.1" rx="2.35" ry="2.1"/><ellipse cx="695.5" cy="190.1" rx="2.35" ry="2.1"/><ellipse cx="703.3" cy="190.1" rx="2.35" ry="2.1"/><ellipse cx="711.2" cy="190.1" rx="2.35" ry="2.1"/><ellipse cx="719.1" cy="190.1" rx="2.35" ry="2.1"/></g>
<rect x="494.6" y="200.6" width="40" height="100.8" rx="1.5" fill="#a9acb0"/>
<rect x="494.6" y="200.6" width="40" height="7.5" rx="1.5" fill="url(#shTop)"/>
<rect x="530" y="201.6" width="4.6" height="99" fill="url(#shRight)"/>
<rect x="494.6" y="300" width="40" height="1.6" fill="#c3c5c8"/>
<rect x="502.6" y="212.2" width="26.2" height="21.6" fill="#a8aaad" stroke="#2c2e32" stroke-width="1.9"/>
<path d="M502.6,218 v1.4 M502.6,226.2 v1.4 M528.8,218 v1.4 M528.8,226.2 v1.4" stroke="#b7b9bc" stroke-width="1.8"/>
<rect x="508" y="240.4" width="15" height="26.6" rx="1" fill="#3d3f43"/>
<rect x="510.2" y="242.4" width="10.6" height="22.6" rx="3.4" fill="#dcdee0" stroke="#8e9195" stroke-width="0.8"/>
<rect x="513.2" y="246" width="4.6" height="15.6" rx="0.8" fill="#fafafa" stroke="#a3a6aa" stroke-width="0.5"/>
<path d="M514.4,249 h2.2 M514.4,253 h2.2 M514.4,257 h2.2" stroke="#9a9da1" stroke-width="0.8"/>
<rect x="505" y="271.4" width="20.2" height="22.2" rx="1" fill="#c9cbcd" stroke="#3b3d41" stroke-width="1.4"/>
<rect x="508.2" y="274.6" width="13.8" height="15.8" rx="1.6" fill="#d9dbdd" stroke="#a0a3a7" stroke-width="0.7"/>
<rect x="512" y="279" width="6.2" height="8" rx="0.8" fill="#f6f6f6"/>
<path d="M540,217 v7 M543,218 v5 M540,247 v8 M543,248 v6 M540,280 v9 M543,282 v6" stroke="#c3c6c9" stroke-width="1" opacity="0.8"/>
<rect x="706.6" y="201.6" width="30" height="97.4" rx="1.5" fill="#a8abaf"/>
<rect x="706.6" y="201.6" width="30" height="7" rx="1.5" fill="url(#shTop)"/>
<rect x="706.6" y="297.4" width="30" height="1.8" fill="#c6c8cb"/>
<rect x="706.6" y="202" width="1.6" height="96" fill="#96999d"/>
<path d="M696,216 v12 M699,218 v9 M699,258 v12" stroke="#c0c3c6" stroke-width="0.9" opacity="0.8"/>
<rect x="712.6" y="211.8" width="15" height="20" rx="0.8" fill="#2a5a36"/>
<rect x="712.6" y="211.8" width="1.6" height="20" fill="#4a8556"/>
<rect x="725.2" y="212.4" width="2.4" height="19" fill="#437c4f"/>
<rect x="714.8" y="213.4" width="9.6" height="8.4" rx="1" fill="#173a22"/><rect x="714.8" y="223.4" width="9.6" height="7.2" rx="1" fill="#24502f"/>
<circle cx="718.4" cy="218.4" r="1.8" fill="#466f50"/><circle cx="718.8" cy="227" r="1.5" fill="#7ab386"/>
<rect x="714.6" y="221.6" width="12.4" height="1.1" fill="#5f9f6c"/>
<rect x="712.6" y="230.6" width="15" height="1.2" fill="#5f9f6c"/>
<rect x="727.6" y="217.4" width="2.6" height="7.4" fill="#1f2124"/>
<path d="M716,241.8 h6.8 q2.6,0 2.9,3 l0.9,7 v26 l-0.9,9 q-0.3,3 -2.9,3 h-6.8 q-2.6,0 -2.9,-3 l-0.9,-9 v-26 l0.9,-7 q0.3,-3 2.9,-3 z" fill="#b3b5b8" stroke="#7a7d81" stroke-width="0.8"/>
<rect x="712.2" y="252.6" width="14.6" height="26.6" rx="3.8" fill="#c4c6c8" stroke="#66696d" stroke-width="0.9"/>
<rect x="713.6" y="254.2" width="11.8" height="23.4" rx="3" fill="#34363a"/>
<g fill="#9a9da1"><circle cx="717.2" cy="257.6" r="1"/><circle cx="717.2" cy="261.7" r="1"/><circle cx="717.2" cy="265.8" r="1"/><circle cx="717.2" cy="269.9" r="1"/><circle cx="717.2" cy="274.0" r="1"/><circle cx="721.8" cy="259.6" r="1"/><circle cx="721.8" cy="263.7" r="1"/><circle cx="721.8" cy="267.8" r="1"/><circle cx="721.8" cy="271.9" r="1"/></g>
<circle cx="719.4" cy="246" r="2.8" fill="#e2e3e4" stroke="#74777b" stroke-width="0.9"/><circle cx="719.4" cy="246" r="1.2" fill="#8f8472"/>
<circle cx="719.4" cy="285" r="2.8" fill="#e2e3e4" stroke="#74777b" stroke-width="0.9"/><circle cx="719.4" cy="285" r="1.2" fill="#8f8472"/>
<rect x="557" y="209.8" width="126.4" height="80.2" rx="3.2" fill="#fcfcfc"/>
<rect x="557" y="209.8" width="126.4" height="80.2" rx="3.2" fill="none" stroke="#d9dbdd" stroke-width="0.6"/>
<text x="560" y="221" font-size="13.4" fill="#111" stroke="#111" stroke-width="0.35" textLength="47.2" lengthAdjust="spacingAndGlyphs">mcgs<tspan font-size="14.8">T</tspan>pc</text>
<g transform="translate(617.6,219.2) scale(0.5)"><text class="serif" x="0" y="0" font-size="13" font-weight="bold" fill="#222" textLength="118" lengthAdjust="spacing">嵌入式一体化触摸屏</text></g>
<rect x="557" y="223.5" width="126.4" height="1" fill="#333"/>
<g transform="translate(559.8,234.9) scale(0.5)"><text class="serif" x="0" y="0" font-size="12" font-weight="bold" fill="#444">型号:</text><text x="34" y="-0.6" font-size="9.6" font-weight="bold" fill="#555" textLength="57.0" lengthAdjust="spacingAndGlyphs">TPC7062TX</text></g>
<g transform="translate(559.8,244.4) scale(0.5)"><text class="serif" x="0" y="0" font-size="12" font-weight="bold" fill="#444">输入:</text><text x="34" y="-0.6" font-size="11" font-weight="bold" fill="#555" textLength="78" lengthAdjust="spacingAndGlyphs">24V DC/300mA</text></g>
<g transform="translate(559.8,254.8) scale(0.5)"><text class="serif" x="0" y="0" font-size="12" font-weight="bold" fill="#444">环境:</text><text x="34" y="-0.6" font-size="11" font-weight="bold" fill="#555" textLength="65.2" lengthAdjust="spacingAndGlyphs">0℃...+45℃</text></g>
<g transform="translate(559.8,265.1) scale(0.5)"><text class="serif" x="0" y="0" font-size="12" font-weight="bold" fill="#444">编号:</text><text x="34" y="-0.6" font-size="11" font-weight="bold" fill="#555" textLength="99.0" lengthAdjust="spacingAndGlyphs">759425012072B401</text></g>
<g transform="translate(618.6,244.2) scale(0.5)"><text x="0" y="0" font-size="8" font-weight="bold" fill="#444">max</text></g>
<g fill="#4a4a4a"><rect x="559.2" y="271.2" width="0.9" height="8.4"/><rect x="560.6" y="271.2" width="0.5" height="8.4"/><rect x="561.5" y="271.2" width="0.8" height="8.4"/><rect x="562.8" y="271.2" width="0.5" height="8.4"/><rect x="563.8" y="271.2" width="1.1" height="8.4"/><rect x="565.4" y="271.2" width="0.5" height="8.4"/><rect x="566.4" y="271.2" width="1.0" height="8.4"/><rect x="568.0" y="271.2" width="0.5" height="8.4"/><rect x="569.0" y="271.2" width="0.8" height="8.4"/><rect x="570.4" y="271.2" width="0.9" height="8.4"/><rect x="571.8" y="271.2" width="0.5" height="8.4"/><rect x="572.8" y="271.2" width="0.9" height="8.4"/><rect x="574.2" y="271.2" width="1.0" height="8.4"/><rect x="575.8" y="271.2" width="0.6" height="8.4"/><rect x="577.0" y="271.2" width="0.9" height="8.4"/><rect x="578.4" y="271.2" width="0.8" height="8.4"/><rect x="579.8" y="271.2" width="0.6" height="8.4"/><rect x="581.0" y="271.2" width="0.9" height="8.4"/><rect x="582.4" y="271.2" width="0.8" height="8.4"/><rect x="583.8" y="271.2" width="0.6" height="8.4"/><rect x="585.0" y="271.2" width="0.9" height="8.4"/></g>
<rect x="602.4" y="270.3" width="77.6" height="0.7" fill="#444"/>
<g transform="translate(604.6,278) scale(0.25)"><text x="0" y="0" font-size="18.4" font-weight="bold" fill="#3a3a3a" textLength="296" lengthAdjust="spacing">北京昆仑通态自动化软件科技有限公司</text></g>
<text x="627.4" y="238.9" font-size="9.6" font-weight="bold" fill="#111" textLength="10.2" lengthAdjust="spacingAndGlyphs">CE</text>
<g transform="translate(641.4,237.4) scale(0.25)"><text x="0" y="0" font-size="18" font-weight="bold" fill="#3a3a3a" textLength="136" lengthAdjust="spacingAndGlyphs">本产品通过CE认证</text></g>
<text x="629.4" y="252.6" font-size="10" font-weight="bold" fill="#111" textLength="9.6" lengthAdjust="spacingAndGlyphs">FC</text>
<g transform="translate(641.4,251) scale(0.25)"><text x="0" y="0" font-size="18" font-weight="bold" fill="#3a3a3a" textLength="142" lengthAdjust="spacingAndGlyphs">本产品通过FCC认证</text></g>
</g>
<rect x="320" y="468" width="68" height="127" fill="url(#ifLight)"/>
</g>
<rect x="93" y="533.8" width="40.6" height="3.2" fill="#e6a03a"/>
<text class="serif" x="81.2" y="541.6" font-size="15.7" text-anchor="middle" fill="#e8ae58">①</text>
<rect x="93" y="563.8" width="40.6" height="3.2" fill="#e6a03a"/>
<text class="serif" x="81.2" y="571.6" font-size="15.7" text-anchor="middle" fill="#e8ae58">②</text>
<rect x="365.4" y="501.9" width="41.6" height="3.2" fill="#e6a03a"/>
<text class="serif" x="418.6" y="509.7" font-size="15.7" text-anchor="middle" fill="#e8ae58">③</text>
<rect x="364" y="545.8" width="43.0" height="3.2" fill="#e6a03a"/>
<text class="serif" x="418.6" y="553.6" font-size="15.7" text-anchor="middle" fill="#e8ae58">④</text>
</g>
<ellipse cx="26.5" cy="21.4" rx="8.5" ry="7.6" fill="none" stroke="#1c5fa6" stroke-width="1.4"/>
<text x="48.5" y="26.9" font-size="26" font-weight="bold" fill="#1a5ea8">TPC7062TX</text>
<text x="46.7" y="76.6" font-size="13" fill="#222">TPC7062TX正面</text>
<text x="459.8" y="123.8" font-size="13" fill="#222">TPC7062TX背面</text>
<text x="205.8" y="452.2" font-size="13" fill="#222">TPC7062TX接口</text>
<text x="685.6" y="506.0" font-size="15" fill="#2e2e2e" textLength="50" lengthAdjust="spacingAndGlyphs">①USB1</text>
<text x="685.6" y="530.8" font-size="15" fill="#2e2e2e" textLength="50.8" lengthAdjust="spacingAndGlyphs">②USB2</text>
<text x="685.6" y="555.6" font-size="15" fill="#2e2e2e" textLength="49.4" lengthAdjust="spacing">③电源</text>
<text x="685.6" y="580.4" font-size="15" fill="#2e2e2e" textLength="50" lengthAdjust="spacingAndGlyphs">④COM</text>
<text x="31.4" y="449.9" font-size="24" fill="#1c1c1c" textLength="24.8" lengthAdjust="spacingAndGlyphs">C E</text>
<text font-size="24" fill="#1c1c1c"><tspan x="70.4" y="450.1" textLength="8.6" lengthAdjust="spacingAndGlyphs" stroke="#1c1c1c" stroke-width="0.9">F</tspan><tspan x="79.2" y="450.2" textLength="16" lengthAdjust="spacingAndGlyphs" stroke="#1c1c1c" stroke-width="0.3">C</tspan><tspan x="82.9" y="446.5" font-size="13.6" textLength="9.9" lengthAdjust="spacingAndGlyphs">C</tspan></text>
</svg>
</body>
</html>
